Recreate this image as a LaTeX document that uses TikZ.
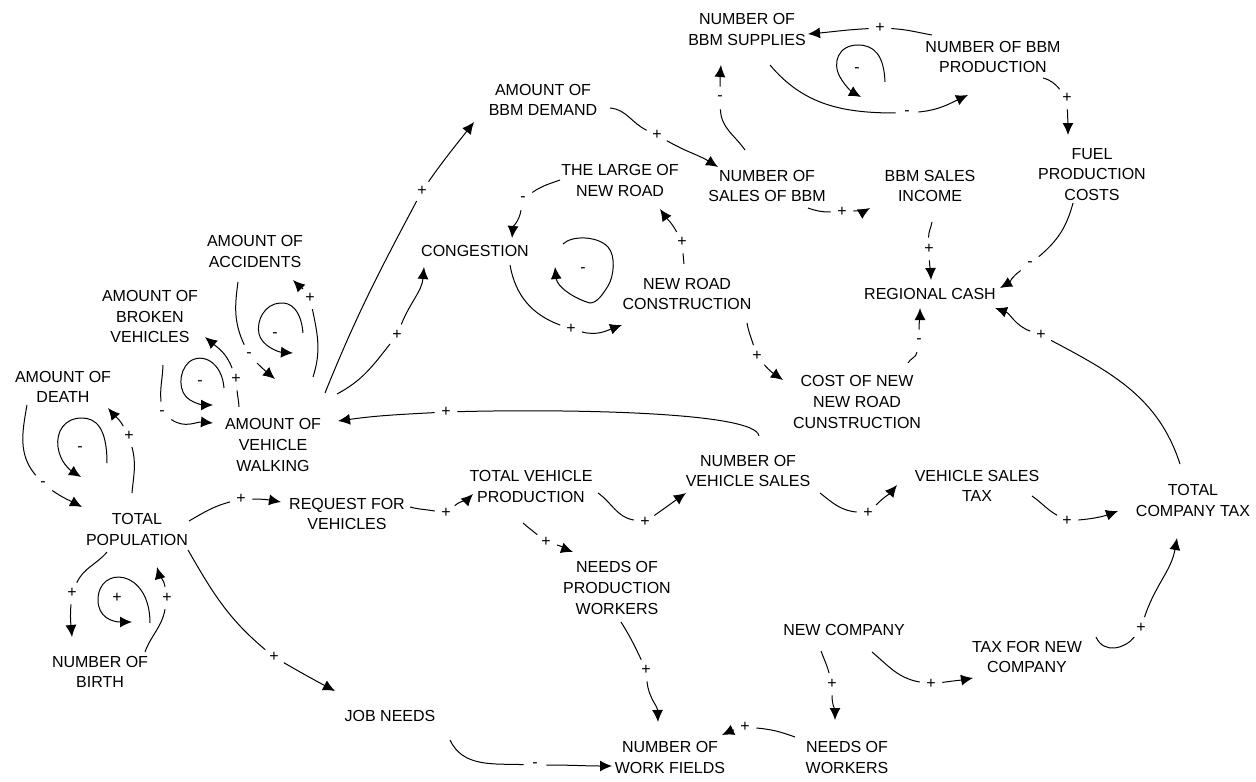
\documentclass[tikz,border=0pt]{standalone}
\usepackage{fontspec}
\setmainfont{Liberation Sans}
\usetikzlibrary{arrows.meta}
\begin{document}
\begin{tikzpicture}[x=0.5pt,y=0.5pt,
  vbl/.style={align=center,inner sep=0pt,font=\fontsize{8}{10.3}\selectfont},
  sgn/.style={circle,inner sep=0pt,minimum size=11pt,font=\fontsize{8}{9}\selectfont},
  lsg/.style={inner sep=1pt,font=\fontsize{8}{9}\selectfont},
  lnk/.style={line width=0.5pt,-{Latex[length=6pt,width=5.5pt]}}]
\useasboundingbox (0,0) rectangle (1256,-781);
% variables
\node[vbl] (pop) at (137,-529.5) {TOTAL\\POPULATION};
\node[vbl] (birth) at (100,-672) {NUMBER OF\\BIRTH};
\node[vbl] (death) at (63,-387) {AMOUNT OF\\DEATH};
\node[vbl] (broken) at (150,-316.5) {AMOUNT OF\\BROKEN\\VEHICLES};
\node[vbl] (acc) at (255,-251.5) {AMOUNT OF\\ACCIDENTS};
\node[vbl] (walk) at (273,-445) {AMOUNT OF\\VEHICLE\\WALKING};
\node[vbl] (req) at (347,-514) {REQUEST FOR\\VEHICLES};
\node[vbl] (jobs) at (390,-716) {JOB NEEDS};
\node[vbl] (tvp) at (531,-486.5) {TOTAL VEHICLE\\PRODUCTION};
\node[vbl] (npw) at (617,-588) {NEEDS OF\\PRODUCTION\\WORKERS};
\node[vbl] (nwf) at (670,-757.5) {NUMBER OF\\WORK FIELDS};
\node[vbl] (nw) at (847,-757.5) {NEEDS OF\\WORKERS};
\node[vbl] (newco) at (844,-630) {NEW COMPANY};
\node[vbl] (taxnew) at (1027,-657) {TAX FOR NEW\\COMPANY};
\node[vbl] (tct) at (1193,-500.5) {TOTAL\\COMPANY TAX};
\node[vbl] (vst) at (977,-486) {VEHICLE SALES\\TAX};
\node[vbl] (nvs) at (748,-471) {NUMBER OF\\VEHICLE SALES};
\node[vbl] (cost) at (857,-402) {COST OF NEW\\NEW ROAD\\CUNSTRUCTION};
\node[vbl] (cash) at (930,-294) {REGIONAL CASH};
\node[vbl] (nrc) at (687,-294) {NEW ROAD\\CONSTRUCTION};
\node[vbl] (cong) at (475,-251) {CONGESTION};
\node[vbl] (large) at (620,-180.5) {THE LARGE OF\\NEW ROAD};
\node[vbl] (nsb) at (767,-186) {NUMBER OF\\SALES OF BBM};
\node[vbl] (income) at (930,-186) {BBM SALES\\INCOME};
\node[vbl] (fuel) at (1092,-174.5) {FUEL\\PRODUCTION\\COSTS};
\node[vbl] (demand) at (543,-100) {AMOUNT OF\\BBM DEMAND};
\node[vbl] (supp) at (747,-29.5) {NUMBER OF\\BBM SUPPLIES};
\node[vbl] (prod) at (993,-57) {NUMBER OF BBM\\PRODUCTION};
% polarity signs
\node[sgn] (sA) at (241,-499) {+};
\node[sgn] (sB) at (274,-657) {+};
\node[sgn] (sC) at (72,-593) {+};
\node[sgn] (sD) at (167,-598) {+};
\node[lsg] (sE) at (117,-598) {+};
\node[sgn] (sF) at (129,-436) {+};
\node[sgn] (sG) at (43,-484) {-};
\node[lsg] (sH) at (80,-449) {-};
\node[sgn] (sI) at (236,-379) {+};
\node[sgn] (sJ) at (162,-413) {-};
\node[lsg] (sK) at (200,-383) {-};
\node[sgn] (sL) at (310,-298) {+};
\node[sgn] (sM) at (249,-355) {-};
\node[lsg] (sN) at (275,-335) {-};
\node[sgn] (sO) at (422,-191) {+};
\node[sgn] (sP) at (397,-335) {+};
\node[sgn] (sQ) at (446,-412) {+};
\node[sgn] (sR) at (571,-329) {+};
\node[sgn] (sS) at (682,-242) {+};
\node[sgn] (sT) at (523,-199) {-};
\node[lsg] (sU) at (583,-270) {-};
\node[sgn] (sV) at (657,-135) {+};
\node[sgn] (sW) at (720,-98) {-};
\node[sgn] (sX) at (880,-28) {+};
\node[sgn] (sY) at (907,-113) {-};
\node[lsg] (sZ) at (857,-70) {-};
\node[sgn] (sAA) at (1067,-98) {+};
\node[sgn] (sAB) at (842,-212) {+};
\node[sgn] (sAC) at (929,-249) {+};
\node[sgn] (sAD) at (1030,-264) {-};
\node[sgn] (sAE) at (919,-341) {-};
\node[sgn] (sAF) at (1041,-335) {+};
\node[sgn] (sAG) at (757,-356) {+};
\node[sgn] (sAH) at (446,-513) {+};
\node[sgn] (sAI) at (645,-522) {+};
\node[sgn] (sAJ) at (546,-542) {+};
\node[sgn] (sAK) at (868,-513) {+};
\node[sgn] (sAL) at (1067,-521) {+};
\node[sgn] (sAM) at (1141,-628) {+};
\node[sgn] (sAN) at (931,-684) {+};
\node[sgn] (sAO) at (832,-684) {+};
\node[sgn] (sAP) at (745,-727) {+};
\node[sgn] (sAQ) at (646,-670) {+};
\node[sgn] (sAR) at (535,-765) {-};
% connectors
\draw[lnk] ([shift={(52,8.5)}]pop.center) to[out=30,in=195] (sA) to[out=0,in=170] ([shift={(-66,12)}]req.center);
\draw[lnk] ([shift={(51,-20.5)}]pop.center) to[out=-60,in=140] (sB) to[out=-30,in=152] ([shift={(-55,25)}]jobs.center);
\draw[lnk] ([shift={(-30,-22.5)}]pop.center) to[out=230,in=65] (sC) to[out=-95,in=95] ([shift={(-28,35)}]birth.center);
\draw[lnk] ([shift={(45,20)}]birth.center) to[out=70,in=260] (sD) to[out=100,in=-75] ([shift={(20,-37.5)}]pop.center);
\draw[lnk] ([shift={(-5,36.5)}]pop.center) to[out=85,in=-75] (sF) to[out=120,in=-50] ([shift={(45,-21)}]death.center);
\draw[lnk] ([shift={(-36,-18)}]death.center) to[out=-100,in=130] (sG) to[out=-35,in=152] ([shift={(-55,22.5)}]pop.center);
\draw[lnk] ([shift={(-34,38)}]walk.center) to[out=92,in=-85] (sI) to[out=110,in=-40] ([shift={(55,-20.5)}]broken.center);
\draw[lnk] ([shift={(13,-48.5)}]broken.center) to[out=-92,in=95] (sJ) to[out=-35,in=175] ([shift={(-60,22)}]walk.center);
\draw[lnk] ([shift={(40,68)}]walk.center) to[out=72,in=-78] (sL) to[out=128,in=-45] ([shift={(38,-28.5)}]acc.center);
\draw[lnk] ([shift={(-17,-30.5)}]acc.center) to[out=-98,in=115] (sM) to[out=-45,in=140] ([shift={(2,66)}]walk.center);
\draw[lnk] ([shift={(52,52)}]walk.center) to[out=68,in=-118] (sO) to[out=55,in=-128] ([shift={(-69,-22)}]demand.center);
\draw[lnk] ([shift={(64,51)}]walk.center) to[out=28,in=-128] (sP) to[out=68,in=-95] ([shift={(-51,-16)}]cong.center);
\draw[lnk] ([shift={(11,35)}]nvs.center) .. controls +(-3,25) and +(110,3) .. (sQ) to[out=183,in=8] ([shift={(65,24)}]walk.center);
\draw[lnk] ([shift={(35,-14)}]cong.center) to[out=-80,in=160] (sR) to[out=-15,in=200] ([shift={(-65,-31)}]nrc.center);
\draw[lnk] ([shift={(-3,30)}]nrc.center) to[out=95,in=-85] (sS) to[out=118,in=-55] ([shift={(40,-28.5)}]large.center);
\draw[lnk] ([shift={(-60,0.5)}]large.center) to[out=200,in=35] (sT) to[out=-100,in=85] ([shift={(37,13)}]cong.center);
\draw[lnk] ([shift={(67,-8)}]demand.center) to[out=-5,in=155] (sV) to[out=-30,in=148] ([shift={(-49,19)}]nsb.center);
\draw[lnk] ([shift={(-22,36)}]nsb.center) to[out=125,in=-88] (sW) to[out=90,in=-95] ([shift={(-26,-35.5)}]supp.center);
\draw[lnk] ([shift={(-61,22)}]prod.center) to[out=170,in=-3] (sX) to[out=183,in=5] ([shift={(61,-4.5)}]supp.center);
\draw[lnk] ([shift={(23,-35.5)}]supp.center) to[out=-50,in=180] (sY) to[out=5,in=205] ([shift={(-25,-38)}]prod.center);
\draw[lnk] ([shift={(50,-21)}]prod.center) to[out=-15,in=130] (sAA) to[out=-88,in=90] ([shift={(-24,39.5)}]fuel.center);
\draw[lnk] ([shift={(41,-22)}]nsb.center) to[out=-20,in=180] (sAB) to[out=5,in=210] ([shift={(-60,-22)}]income.center);
\draw[lnk] ([shift={(2,-36)}]income.center) to[out=-100,in=92] (sAC) to[out=-88,in=92] ([shift={(1,14)}]cash.center);
\draw[lnk] ([shift={(-19,-28.5)}]fuel.center) to[out=-105,in=40] (sAD) to[out=215,in=30] ([shift={(70,6)}]cash.center);
\draw[lnk] ([shift={(51,39)}]cost.center) to[out=62,in=-100] (sAE) to[out=90,in=-90] ([shift={(-10,-14)}]cash.center);
\draw[lnk] ([shift={(-13,36.5)}]tct.center) to[out=108,in=-28] (sAF) to[out=160,in=-20] ([shift={(65,-14)}]cash.center);
\draw[lnk] ([shift={(60,-29)}]nrc.center) to[out=-80,in=108] (sAG) to[out=-50,in=145] ([shift={(-74,22)}]cost.center);
\draw[lnk] ([shift={(63,7)}]req.center) to[out=-15,in=170] (sAH) to[out=40,in=225] ([shift={(-58,-7.5)}]tvp.center);
\draw[lnk] ([shift={(67,-6.5)}]tvp.center) to[out=-35,in=170] (sAI) to[out=35,in=215] ([shift={(-62,-22)}]nvs.center);
\draw[lnk] ([shift={(-8,-36.5)}]tvp.center) to[out=-42,in=140] (sAJ) to[out=-15,in=160] ([shift={(-44,36)}]npw.center);
\draw[lnk] ([shift={(72,-22)}]nvs.center) to[out=-38,in=175] (sAK) to[out=45,in=230] ([shift={(-80,1)}]vst.center);
\draw[lnk] ([shift={(55,-10)}]vst.center) to[out=-35,in=150] (sAL) to[out=5,in=200] ([shift={(-75,-10.5)}]tct.center);
\draw[lnk] ([shift={(69,20)}]taxnew.center) .. controls +(8,-18) and +(-15,-20) .. (sAM) to[out=72,in=-100] ([shift={(-16,-37.5)}]tct.center);
\draw[lnk] ([shift={(28,-22)}]newco.center) to[out=-40,in=170] (sAN) to[out=8,in=190] ([shift={(-54,-21)}]taxnew.center);
\draw[lnk] ([shift={(-23,-21)}]newco.center) to[out=-70,in=105] (sAO) to[out=-90,in=90] ([shift={(-12,37.5)}]nw.center);
\draw[lnk] ([shift={(-52,20.5)}]nw.center) to[out=160,in=-5] (sAP) to[out=195,in=25] ([shift={(52,22.5)}]nwf.center);
\draw[lnk] ([shift={(4,-34)}]npw.center) to[out=-58,in=115] (sAQ) to[out=-85,in=92] ([shift={(-12,35.5)}]nwf.center);
\draw[lnk] ([shift={(60,-24)}]jobs.center) to[out=-65,in=178] (sAR) to[out=0,in=180] ([shift={(-58,-8.5)}]nwf.center);
% loop symbols
\draw[lnk] (150,-623) .. controls (150,-568) and (98,-565) .. (98,-600) .. controls (98,-617) and (112,-622) .. (132,-622);
\draw[lnk] (107,-463) .. controls (107,-428) and (96,-418) .. (82,-418) .. controls (64,-418) and (56,-432) .. (58,-447) .. controls (60,-462) and (70,-470) .. (81,-477);
\draw[lnk] (224,-388) .. controls (222,-362) and (202,-352) .. (189,-362) .. controls (178,-372) and (178,-393) .. (190,-400) .. controls (196,-404) and (204,-405) .. (213,-405);
\draw[lnk] (303,-333) .. controls (301,-310) and (291,-302) .. (280,-303) .. controls (265,-304) and (256,-320) .. (259,-334) .. controls (262,-346) and (278,-352) .. (293,-353);
\draw[lnk] (563,-244) .. controls (572,-235) and (598,-236) .. (608,-247) .. controls (616,-256) and (614,-276) .. (608,-286) .. controls (603,-294) and (597,-303) .. (590,-303) .. controls (575,-299) and (557,-287) .. (555,-267);
\draw[lnk] (885,-82) .. controls (884,-55) and (874,-45) .. (858,-45) .. controls (838,-45) and (832,-63) .. (840,-77) .. controls (845,-86) and (852,-92) .. (861,-97);
\end{tikzpicture}
\end{document}
